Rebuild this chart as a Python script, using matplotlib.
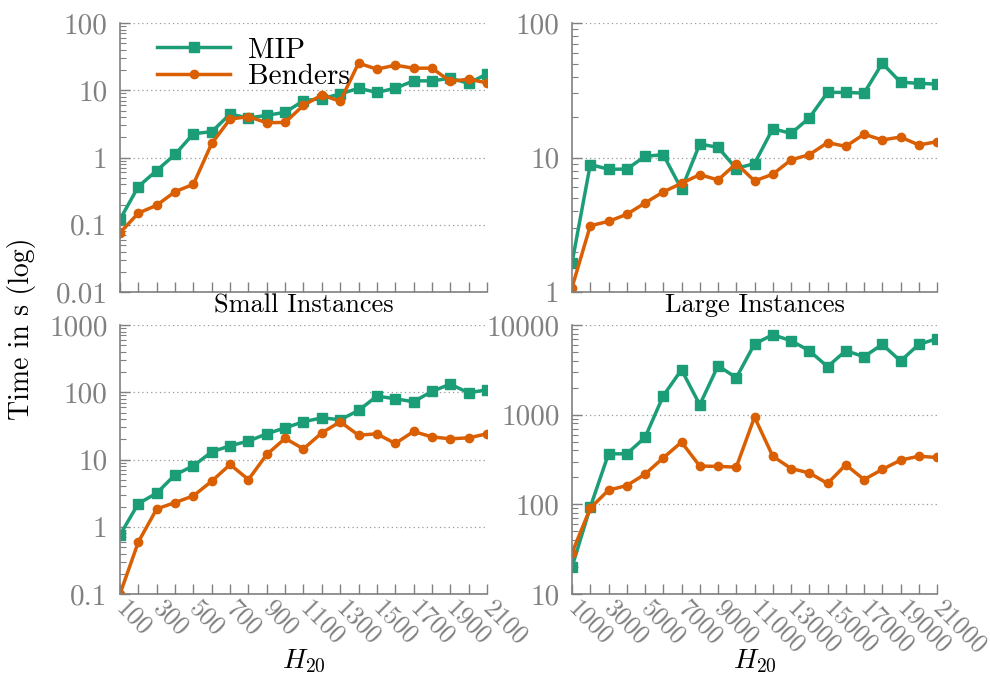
import numpy as np
import matplotlib
matplotlib.use('Agg')
import matplotlib.pyplot as plt
from matplotlib.ticker import FixedLocator, FixedFormatter, LogLocator, NullFormatter

plt.rcParams['font.family'] = 'serif'
plt.rcParams['font.serif'] = ['cmr10']
plt.rcParams['mathtext.fontset'] = 'cm'
plt.rcParams['axes.unicode_minus'] = False

# instance sizes (H_20)
small_x = list(range(100, 2101, 100))
large_x = list(range(1000, 21001, 1000))

# small instances, solve time in s
small_mip = [0.12, 0.37, 0.64, 1.11, 2.26, 2.42, 4.43, 3.87, 4.24, 4.7, 7.0,
             7.5, 8.8, 10.7, 9.3, 10.7, 13.8, 13.8, 15.1, 12.7, 17.5]
small_benders = [0.076, 0.149, 0.195, 0.31, 0.40, 1.62, 3.73, 4.05, 3.29, 3.33, 5.97,
                 8.5, 6.86, 25.3, 20.6, 23.6, 21.3, 21.3, 13.6, 14.6, 12.9]

# large instances, solve time in s
large_mip = [1.65, 8.87, 8.18, 8.2, 10.2, 10.5, 5.81, 12.6, 11.9, 8.28, 9.02,
             16.4, 15.1, 19.7, 30.5, 30.5, 30.1, 50.2, 36.3, 35.6, 35.1]
large_benders = [1.08, 3.11, 3.35, 3.78, 4.59, 5.55, 6.43, 7.46, 6.81, 9.02, 6.70,
                 7.51, 9.6, 10.5, 12.9, 12.1, 14.9, 13.5, 14.2, 12.4, 13.1]

# small instances, second experiment
small2_mip = [0.755, 2.21, 3.16, 5.92, 8.05, 13.0, 16.0, 18.8, 24.1, 29.6, 36.4,
              41.7, 39.0, 53.6, 87.7, 80, 72.3, 103, 132, 98, 109]
small2_benders = [0.1, 0.594, 1.84, 2.29, 2.88, 4.76, 8.43, 5.03, 11.9, 20.6, 14.4,
                  24.9, 36.4, 23.0, 24.1, 17.3, 26.1, 21.7, 20.3, 21.0, 24.1]

# large instances, second experiment
large2_mip = [20.0, 92.9, 366, 366, 557, 1626, 3170, 1289, 3515, 2582, 6140,
              7800, 6680, 5170, 3427, 5170, 4430, 6083, 3964, 6083, 7035]
large2_benders = [28.7, 90.6, 144, 162, 217, 330, 494, 267, 265, 260, 940,
                  344, 251, 224, 171, 276, 189, 245, 311, 344, 333]

green = '#1b9e77'
orange = '#d95f02'
gray = '#808080'

fig = plt.figure(figsize=(9.9, 6.75), dpi=100)
ax_tl = fig.add_axes([0.1212, 0.5674, 0.3707, 0.3985])
ax_tr = fig.add_axes([0.5778, 0.5674, 0.3687, 0.3985])
ax_bl = fig.add_axes([0.1212, 0.12, 0.3707, 0.3985])
ax_br = fig.add_axes([0.5778, 0.12, 0.3687, 0.3985])


def draw(ax, x, mip, benders, ylim, yticks, ylabels, show_x):
    ax.plot(x, mip, color=green, lw=2.5, marker='s', ms=7, label='MIP')
    ax.plot(x, benders, color=orange, lw=2.5, marker='o', ms=6, label='Benders')
    ax.set_yscale('log')
    ax.set_ylim(*ylim)
    ax.set_xlim(x[0], x[-1])
    ax.yaxis.set_major_locator(FixedLocator(yticks))
    ax.yaxis.set_major_formatter(FixedFormatter(ylabels))
    ax.yaxis.set_minor_locator(LogLocator(base=10, subs=np.arange(2, 10)))
    ax.yaxis.set_minor_formatter(NullFormatter())
    ax.set_xticks(x)
    if show_x:
        labels = [str(v) if i % 2 == 0 else '' for i, v in enumerate(x)]
        ax.set_xticklabels(labels, rotation=-45, ha='left', va='center',
                           rotation_mode='anchor')
        ax.set_xlabel('$H_{20}$', fontsize=20, va='center')
        ax.xaxis.set_label_coords(0.5, -0.25)
    else:
        ax.set_xticklabels([])
    for s in ['top', 'right']:
        ax.spines[s].set_visible(False)
    for s in ['left', 'bottom']:
        ax.spines[s].set_color(gray)
        ax.spines[s].set_linewidth(1.2)
    ax.tick_params(axis='both', which='major', direction='in', length=7,
                   color=gray, labelcolor=gray, width=1)
    ax.tick_params(axis='y', which='major', labelsize=21, pad=9)
    ax.tick_params(axis='x', which='major', labelsize=18.5, pad=8)
    ax.tick_params(axis='y', which='minor', direction='in', length=4,
                   color=gray, width=0.8)
    ax.grid(True, axis='y', which='major', linestyle=(0, (1, 2.5)),
            color='#999999', lw=0.9)
    ax.set_axisbelow(True)


draw(ax_tl, small_x, small_mip, small_benders, (0.01, 100),
     [0.01, 0.1, 1, 10, 100], ['0.01', '0.1', '1', '10', '100'], False)
draw(ax_tr, large_x, large_mip, large_benders, (1, 100),
     [1, 10, 100], ['1', '10', '100'], False)
draw(ax_bl, small_x, small2_mip, small2_benders, (0.1, 1000),
     [0.1, 1, 10, 100, 1000], ['0.1', '1', '10', '100', '1000'], True)
draw(ax_br, large_x, large2_mip, large2_benders, (10, 10000),
     [10, 100, 1000, 10000], ['10', '100', '1000', '10000'], True)

for ax, name in [(ax_tl, 'Small Instances'), (ax_tr, 'Large Instances')]:
    ax.set_xlabel(name, fontsize=19, va='center')
    ax.xaxis.set_label_coords(0.5, -0.05)

ax_tl.legend(loc='upper left', bbox_to_anchor=(0.03, 1.045), frameon=False,
             fontsize=21, handlelength=2.5, handletextpad=0.6, labelspacing=0.0)

fig.text(0.022, 0.513, 'Time in s (log)', rotation=90, fontsize=20,
         ha='center', va='center')

fig.savefig('out.png', dpi=100)
